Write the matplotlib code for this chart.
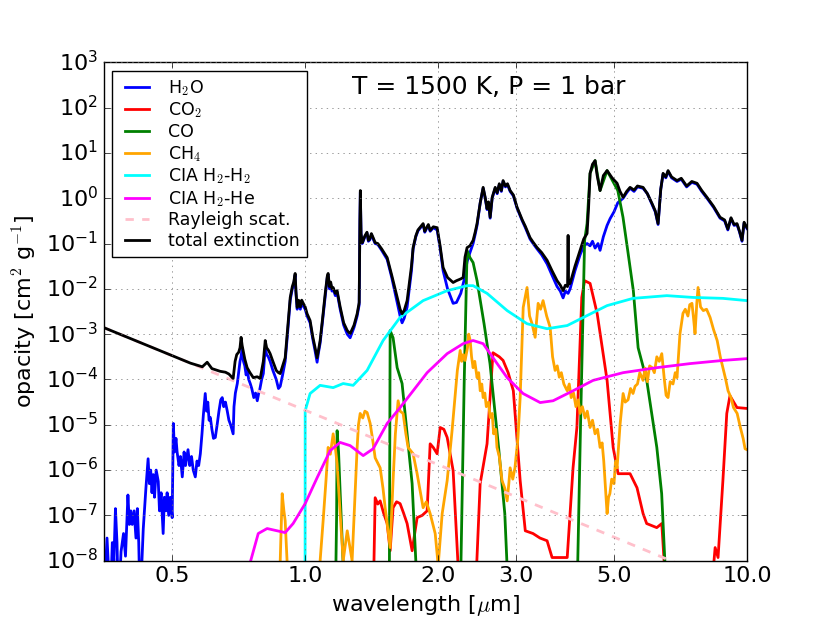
import numpy as np
import matplotlib
matplotlib.use('Agg')
import matplotlib.pyplot as plt
from matplotlib.ticker import FixedLocator, FixedFormatter, NullLocator

plt.style.use('classic')

# wavelength [um] and log10 opacity [cm^2/g]
h2o_wl = [0.349, 0.352, 0.356, 0.359, 0.362, 0.366, 0.369, 0.372, 0.375, 0.378,
          0.383, 0.388, 0.392, 0.397, 0.400, 0.403, 0.406, 0.410, 0.414, 0.417,
          0.420, 0.423, 0.430, 0.436, 0.441, 0.444, 0.447, 0.450, 0.453, 0.456,
          0.460, 0.465, 0.468, 0.472, 0.477, 0.480, 0.484, 0.487, 0.491, 0.495,
          0.500, 0.503, 0.506, 0.510, 0.513, 0.518, 0.522, 0.527, 0.532, 0.536,
          0.543, 0.548, 0.553, 0.558, 0.564, 0.569, 0.574, 0.579, 0.584, 0.588,
          0.594, 0.598, 0.602, 0.606, 0.610, 0.615, 0.620, 0.626, 0.632, 0.638,
          0.644, 0.649, 0.654, 0.660, 0.666, 0.672, 0.678, 0.687, 0.690, 0.695,
          0.702, 0.707, 0.712, 0.716, 0.720, 0.725, 0.730, 0.735, 0.740, 0.745,
          0.751, 0.757, 0.765, 0.772, 0.779, 0.785, 0.790, 0.797, 0.804, 0.812,
          0.818, 0.825, 0.833, 0.845, 0.860, 0.870, 0.878, 0.889, 0.901, 0.912,
          0.925, 0.935, 0.942, 0.949, 0.953, 0.959, 0.966, 0.975, 0.982, 0.990,
          1.000, 1.010, 1.026, 1.040, 1.052, 1.064, 1.072, 1.081, 1.095, 1.110,
          1.118, 1.122, 1.127, 1.135, 1.142, 1.150, 1.157, 1.170, 1.181, 1.200,
          1.222, 1.245, 1.264, 1.290, 1.311, 1.325, 1.330, 1.333, 1.338, 1.346,
          1.353, 1.365, 1.380, 1.390, 1.400, 1.412, 1.425, 1.440, 1.460, 1.490,
          1.533, 1.570, 1.615, 1.640, 1.657, 1.675, 1.701, 1.725, 1.740, 1.755,
          1.780, 1.800, 1.825, 1.849, 1.865, 1.880, 1.900, 1.918, 1.950, 1.989,
          2.020, 2.052, 2.100, 2.162, 2.200, 2.250, 2.290, 2.325, 2.360, 2.399,
          2.425, 2.449, 2.490, 2.528, 2.555, 2.580, 2.600, 2.622, 2.650, 2.692,
          2.720, 2.750, 2.780, 2.805, 2.840, 2.870, 2.910, 2.960, 3.017, 3.100,
          3.150, 3.228, 3.280, 3.349, 3.430, 3.528, 3.620, 3.717, 3.780, 3.835,
          3.880, 3.936, 3.978, 4.080, 4.190, 4.270, 4.345, 4.414, 4.470, 4.531,
          4.600, 4.650, 4.730, 4.823, 4.900, 5.000, 5.100, 5.243, 5.340, 5.437,
          5.550, 5.650, 5.818, 5.950, 6.098, 6.200, 6.291, 6.380, 6.457, 6.550,
          6.627, 6.750, 6.944, 7.100, 7.300, 7.500, 7.706, 7.900, 8.118, 8.400,
          8.690, 8.900, 9.050, 9.200, 9.350, 9.493, 9.620, 9.743, 9.850, 10.0]
h2o_log = [-7.80, -8.50, -7.50, -8.20, -9.00, -7.60, -8.00, -6.85, -7.60, -9.00,
           -7.80, -7.40, -7.90, -6.55, -7.20, -6.90, -7.20, -6.90, -7.50, -6.85,
           -7.60, -9.00, -7.30, -6.40, -5.75, -6.30, -6.00, -6.50, -6.10, -6.60,
           -6.00, -6.25, -6.90, -6.50, -7.40, -6.60, -6.90, -6.50, -7.00, -6.60,
           -7.05, -4.97, -5.60, -5.30, -5.60, -5.90, -5.70, -6.15, -5.60, -5.90,
           -5.55, -5.90, -5.70, -6.00, -6.15, -5.80, -5.90, -5.64, -5.20, -4.80,
           -4.31, -4.70, -4.50, -4.90, -4.84, -5.10, -5.30, -5.28, -5.00, -4.70,
           -4.45, -4.40, -4.60, -4.50, -4.69, -4.90, -5.00, -5.20, -4.60, -4.30,
           -4.09, -3.85, -3.60, -3.50, -3.30, -3.60, -3.70, -3.90, -3.80, -4.00,
           -4.09, -4.20, -4.40, -4.30, -4.47, -4.30, -4.20, -4.00, -3.87, -3.30,
           -3.45, -3.50, -3.60, -3.80, -4.00, -4.20, -4.15, -3.90, -3.60, -3.00,
           -2.25, -2.00, -1.90, -1.70, -2.10, -2.45, -2.30, -2.45, -2.30, -2.38,
           -2.45, -2.60, -2.75, -3.10, -3.35, -3.62, -3.40, -3.20, -2.70, -2.15,
           -1.90, -1.75, -1.70, -2.00, -1.90, -2.05, -2.00, -2.15, -2.08, -2.45,
           -2.80, -3.00, -3.08, -2.85, -2.60, -2.35, -0.50, 0.13, -0.80, -1.00,
           -0.95, -0.85, -0.77, -0.95, -0.92, -0.80, -0.90, -1.00, -1.02, -1.15,
           -1.35, -1.75, -2.30, -2.60, -2.75, -2.65, -2.40, -1.90, -1.60, -1.12,
           -0.85, -0.72, -0.65, -0.58, -0.75, -0.68, -0.60, -0.73, -0.65, -0.70,
           -1.10, -1.60, -2.00, -2.32, -2.30, -2.10, -1.80, -1.40, -1.20, -1.00,
           -0.80, -0.60, -0.10, 0.22, 0.00, -0.25, -0.10, -0.44, 0.00, 0.22,
           0.10, 0.30, 0.15, 0.37, 0.25, 0.30, 0.15, 0.05, -0.22, -0.50,
           -0.65, -0.90, -1.00, -1.12, -1.25, -1.45, -1.70, -1.95, -2.05, -2.20,
           -2.05, -2.10, -2.00, -1.60, -1.25, -1.05, -1.00, -1.05, -0.95, -1.10,
           -1.00, -1.15, -0.85, -0.60, -0.45, -0.30, -0.10, 0.00, 0.12, 0.22,
           0.15, 0.25, 0.22, 0.10, -0.14, -0.30, -0.58, 0.20, 0.53, 0.45,
           0.59, 0.45, 0.37, 0.42, 0.25, 0.35, 0.31, 0.15, 0.00, -0.20,
           -0.44, -0.50, -0.70, -0.45, -0.60, -0.58, -0.75, -0.95, -0.55, -0.67]

co2_wl = [1.400, 1.425, 1.440, 1.460, 1.478, 1.505, 1.533, 1.557, 1.581, 1.610,
          1.640, 1.670, 1.701, 1.746, 1.792, 1.840, 1.888, 1.918, 1.949, 1.989,
          2.021, 2.060, 2.096, 2.162, 2.243, 2.422, 2.489, 2.580, 2.661, 2.700,
          2.750, 2.805, 2.880, 2.959, 3.066, 3.149, 3.278, 3.400, 3.528, 3.621,
          3.918, 4.039, 4.121, 4.227, 4.290, 4.414, 4.581, 4.823, 4.978, 5.108,
          5.437, 5.637, 5.818, 5.928, 6.248, 6.414, 6.586, 8.250, 8.470, 8.600,
          8.820, 9.000, 9.150, 9.490, 10.0]
co2_log = [-9.00, -9.00, -6.61, -6.75, -6.68, -6.95, -7.18, -7.78, -6.83, -6.70,
           -6.74, -6.95, -7.18, -7.78, -7.05, -7.00, -6.90, -5.42, -5.50, -5.64,
           -5.06, -5.10, -5.28, -6.01, -9.00, -9.00, -6.30, -5.42, -3.41, -3.45,
           -3.50, -3.58, -3.85, -4.25, -6.23, -7.34, -7.40, -7.50, -7.56, -7.93,
           -7.93, -5.95, -5.06, -2.19, -1.82, -1.88, -2.55, -4.02, -5.50, -6.08,
           -6.08, -6.39, -6.96, -7.18, -7.27, -7.18, -9.00, -9.00, -7.71, -7.93,
           -6.23, -4.75, -4.36, -4.62, -4.64]

co_wl = [1.170, 1.178, 1.181, 1.190, 1.200, 1.230,
         1.550, 1.557, 1.581, 1.615, 1.657, 1.701, 1.746, 1.800,
         2.243, 2.290, 2.325, 2.360, 2.399, 2.449, 2.540, 2.620, 2.740, 2.830, 2.890,
         4.120, 4.200, 4.290, 4.345, 4.414, 4.531, 4.650, 4.823, 5.100, 5.240,
         5.370, 5.530, 5.670, 5.930, 6.250, 6.410, 6.590]
co_log = [-9.00, -7.00, -5.13, -5.60, -6.50, -9.00,
          -9.00, -2.92, -3.08, -3.74, -4.09, -5.20, -6.30, -9.00,
          -9.00, -4.09, -1.15, -1.31, -1.42, -1.82, -2.77, -3.65, -5.50, -6.96, -9.00,
          -9.00, -5.00, -0.93, -0.56, 0.55, 0.83, 0.17, 0.61, 0.17, -0.42,
          -1.15, -2.04, -3.30, -4.02, -5.50, -6.52, -9.00]

ch4_wl = [0.870, 0.878, 0.887, 0.895, 0.901, 0.910, 0.920,
          1.075, 1.081, 1.098, 1.115, 1.127, 1.140, 1.151, 1.157, 1.170, 1.181,
          1.200, 1.219, 1.245, 1.277, 1.311, 1.320, 1.332, 1.350, 1.365, 1.381,
          1.403, 1.420, 1.440, 1.478, 1.500, 1.517, 1.557, 1.581, 1.600, 1.623,
          1.640, 1.666, 1.690, 1.710, 1.755, 1.792, 1.849, 1.880, 1.918, 1.969,
          2.000, 2.042, 2.096, 2.150, 2.183, 2.210, 2.243, 2.260, 2.280, 2.301,
          2.330, 2.345, 2.363, 2.380, 2.399, 2.420, 2.449, 2.470, 2.490, 2.510,
          2.528, 2.550, 2.570, 2.600, 2.622, 2.650, 2.670, 2.700, 2.717, 2.750,
          2.789, 2.830, 2.865, 2.890, 2.910, 2.950, 2.984, 3.030, 3.066, 3.115,
          3.178, 3.220, 3.262, 3.315, 3.367, 3.410, 3.455, 3.520, 3.585, 3.630,
          3.678, 3.720, 3.760, 3.800, 3.850, 3.918, 3.960, 4.000, 4.050, 4.100,
          4.150, 4.190, 4.240, 4.300, 4.350, 4.414, 4.470, 4.530, 4.590, 4.650,
          4.700, 4.740, 4.790, 4.823, 4.860, 4.894, 4.940, 5.000, 5.040, 5.081,
          5.160, 5.243, 5.300, 5.380, 5.450, 5.521, 5.580, 5.650, 5.720, 5.818,
          5.880, 5.950, 6.020, 6.098, 6.170, 6.250, 6.330, 6.414, 6.500, 6.560,
          6.627, 6.700, 6.800, 6.880, 6.944, 7.050, 7.163, 7.250, 7.350, 7.420,
          7.506, 7.560, 7.627, 7.700, 7.749, 7.850, 7.963, 8.100, 8.250, 8.400,
          8.560, 8.700, 8.820, 8.950, 9.060, 9.200, 9.320, 9.500, 9.660, 9.800,
          9.900, 10.0]
ch4_log = [-9.00, -8.00, -6.52, -6.90, -7.12, -8.00, -9.00,
           -9.00, -8.00, -7.12, -6.20, -5.50, -5.65, -5.35, -5.20, -5.50, -5.86,
           -6.96, -8.00, -7.34, -8.00, -5.50, -5.00, -4.75, -4.85, -4.70, -4.73,
           -4.97, -5.30, -5.73, -5.95, -6.40, -6.83, -7.71, -6.23, -5.20, -4.47,
           -4.70, -4.75, -5.20, -5.50, -5.64, -6.08, -6.83, -6.70, -6.96, -7.40,
           -8.10, -6.96, -6.23, -5.13, -4.40, -3.80, -3.36, -3.60, -3.45, -3.58,
           -3.30, -3.00, -3.14, -3.50, -3.74, -3.60, -3.96, -3.85, -4.25, -4.10,
           -4.40, -4.30, -4.60, -4.50, -4.84, -4.75, -5.20, -5.10, -5.50, -5.70,
           -6.23, -6.40, -6.68, -6.30, -5.95, -6.20, -5.95, -5.30, -4.40, -2.41,
           -1.97, -2.60, -2.77, -3.07, -2.32, -2.45, -2.26, -2.60, -2.85, -3.50,
           -3.80, -3.70, -3.95, -3.85, -4.10, -4.25, -4.10, -4.40, -4.30, -4.60,
           -4.45, -4.75, -4.60, -4.85, -4.70, -5.06, -4.90, -5.20, -5.10, -5.50,
           -5.40, -5.80, -6.50, -6.96, -6.60, -6.52, -6.20, -6.30, -5.80, -5.95,
           -5.00, -4.31, -4.50, -4.45, -4.20, -4.31, -4.15, -4.10, -3.85, -4.02,
           -3.75, -4.05, -3.70, -3.74, -3.85, -3.50, -3.60, -3.43, -4.00, -4.35,
           -4.40, -4.05, -4.10, -3.85, -3.96, -3.00, -2.54, -2.45, -2.60, -2.35,
           -2.32, -2.60, -2.99, -2.30, -1.97, -2.40, -2.48, -2.45, -2.63, -2.90,
           -3.14, -3.50, -3.74, -4.00, -4.25, -4.40, -4.62, -4.75, -5.06, -5.30,
           -5.53, -5.55]

h2h2_wl = [0.9995, 1.000, 1.026, 1.081, 1.157, 1.219, 1.284, 1.381, 1.501, 1.640,
           1.849, 2.096, 2.325, 2.399, 2.580, 2.865, 3.178, 3.528, 3.918, 4.345,
           4.823, 5.521, 6.586, 7.560, 8.820, 10.0]
h2h2_log = [-9.00, -4.69, -4.31, -4.13, -4.18, -4.09, -4.13, -3.80, -3.14, -2.63,
            -2.26, -2.04, -1.93, -1.93, -2.10, -2.48, -2.77, -2.88, -2.81, -2.59,
            -2.37, -2.21, -2.15, -2.19, -2.21, -2.26]

h2he_wl = [0.720, 0.743, 0.783, 0.820, 0.864, 0.901, 0.939, 1.000, 1.064, 1.139,
           1.200, 1.264, 1.353, 1.425, 1.533, 1.640, 1.755, 1.888, 2.096, 2.278,
           2.399, 2.528, 2.661, 2.865, 3.112, 3.403, 3.640, 4.039, 4.484, 5.243,
           6.248, 7.430, 8.820, 10.0]
h2he_log = [-9.00, -8.20, -7.40, -7.29, -7.34, -7.38, -7.18, -6.74, -6.17, -5.57,
            -5.39, -5.46, -5.68, -5.53, -4.97, -4.62, -4.25, -3.85, -3.43, -3.21,
            -3.14, -3.21, -3.52, -3.96, -4.31, -4.51, -4.47, -4.25, -4.02, -3.85,
            -3.74, -3.65, -3.58, -3.54]

ray_wl = [0.349, 1.0, 2.0, 5.0, 10.0]
ray_log = [-2.85, -4.68, -5.88, -7.48, -8.70]

tot_wl = [0.349, 0.450, 0.550, 0.585, 0.600, 0.615, 0.642, 0.660, 0.672, 0.687,
          0.694, 0.700, 0.707, 0.712, 0.716, 0.720, 0.725, 0.730, 0.739, 0.750,
          0.763, 0.779, 0.791, 0.797, 0.804, 0.812, 0.818, 0.825, 0.833, 0.845,
          0.860, 0.870, 0.878, 0.889, 0.901, 0.912, 0.925, 0.935, 0.942, 0.949,
          0.953, 0.959, 0.966, 0.975, 0.982, 0.990, 1.000, 1.010, 1.026, 1.040,
          1.052, 1.064, 1.072, 1.081, 1.095, 1.110, 1.118, 1.122, 1.127, 1.135,
          1.142, 1.150, 1.157, 1.170, 1.181, 1.200, 1.222, 1.245, 1.264, 1.290,
          1.311, 1.325, 1.330, 1.333, 1.338, 1.346, 1.353, 1.365, 1.380, 1.390,
          1.400, 1.412, 1.425, 1.440, 1.460, 1.490, 1.533, 1.570, 1.615, 1.640,
          1.657, 1.675, 1.701, 1.725, 1.740, 1.755, 1.780, 1.800, 1.825, 1.849,
          1.865, 1.880, 1.900, 1.918, 1.950, 1.989, 2.020, 2.052, 2.100, 2.162,
          2.200, 2.250, 2.278, 2.300, 2.325, 2.360, 2.399, 2.425, 2.449, 2.490,
          2.528, 2.555, 2.580, 2.600, 2.622, 2.650, 2.692, 2.720, 2.750, 2.780,
          2.805, 2.840, 2.870, 2.910, 2.960, 3.017, 3.100, 3.150, 3.228, 3.280,
          3.349, 3.430, 3.528, 3.620, 3.717, 3.780, 3.835, 3.880, 3.925, 3.936,
          3.945, 3.978, 4.080, 4.190, 4.270, 4.345, 4.380, 4.414, 4.470, 4.531,
          4.580, 4.650, 4.730, 4.823, 4.950, 5.081, 5.160, 5.243, 5.340, 5.437,
          5.550, 5.650, 5.818, 5.950, 6.098, 6.200, 6.291, 6.380, 6.457, 6.550,
          6.627, 6.750, 6.944, 7.100, 7.300, 7.500, 7.706, 7.900, 8.118, 8.400,
          8.690, 8.900, 9.050, 9.200, 9.350, 9.493, 9.620, 9.743, 9.850, 10.0]
tot_log = [-2.85, -3.29, -3.64, -3.72, -3.62, -3.76, -3.82, -3.84, -3.88, -3.98,
           -3.60, -3.45, -3.40, -3.30, -3.07, -3.25, -3.40, -3.55, -3.74, -3.85,
           -3.96, -3.94, -3.98, -3.80, -3.60, -3.14, -3.30, -3.35, -3.43, -3.60,
           -3.80, -3.85, -3.87, -3.70, -3.52, -2.90, -2.19, -1.95, -1.85, -1.66,
           -2.05, -2.41, -2.25, -2.40, -2.25, -2.32, -2.40, -2.55, -2.70, -3.05,
           -3.28, -3.52, -3.35, -3.14, -2.65, -2.10, -1.85, -1.72, -1.66, -1.95,
           -1.85, -2.00, -1.97, -2.10, -2.04, -2.40, -2.75, -2.92, -2.99, -2.80,
           -2.55, -2.30, -0.50, 0.17, -0.78, -0.98, -0.93, -0.83, -0.75, -0.93,
           -0.90, -0.78, -0.87, -0.98, -1.00, -1.12, -1.31, -1.70, -2.19, -2.45,
           -2.55, -2.48, -2.26, -1.80, -1.50, -1.09, -0.83, -0.70, -0.63, -0.56,
           -0.73, -0.66, -0.58, -0.71, -0.63, -0.65, -1.05, -1.53, -1.75, -1.86,
           -1.82, -1.78, -1.75, -1.30, -1.09, -1.05, -0.93, -0.75, -0.56, -0.10,
           0.24, 0.02, -0.23, -0.08, -0.42, 0.02, 0.24, 0.12, 0.32, 0.17,
           0.39, 0.27, 0.32, 0.17, 0.07, -0.20, -0.48, -0.62, -0.87, -0.97,
           -1.09, -1.20, -1.37, -1.60, -1.82, -1.92, -2.04, -1.92, -1.95, -0.82,
           -1.90, -1.88, -1.50, -1.15, -0.90, -0.78, -0.20, 0.55, 0.75, 0.83,
           0.50, 0.17, 0.50, 0.61, 0.45, 0.33, 0.15, 0.02, 0.15, 0.24,
           0.18, 0.27, 0.24, 0.10, -0.12, -0.28, -0.56, 0.20, 0.55, 0.47,
           0.61, 0.47, 0.39, 0.44, 0.27, 0.37, 0.33, 0.17, 0.02, -0.18,
           -0.42, -0.48, -0.68, -0.43, -0.58, -0.56, -0.73, -0.93, -0.53, -0.65]

xticks = [0.5, 1.0, 2.0, 3.0, 5.0, 10.0]
xtick_labels = ['0.5', '1.0', '2.0', '3.0', '5.0', '10.0']

series = [
    (h2o_wl, h2o_log, 'b', '-', 'H$_2$O'),
    (co2_wl, co2_log, 'r', '-', 'CO$_2$'),
    (co_wl, co_log, 'g', '-', 'CO'),
    (ch4_wl, ch4_log, 'orange', '-', 'CH$_4$'),
    (h2h2_wl, h2h2_log, 'cyan', '-', 'CIA H$_2$-H$_2$'),
    (h2he_wl, h2he_log, 'magenta', '-', 'CIA H$_2$-He'),
    (ray_wl, ray_log, 'pink', '--', 'Rayleigh scat.'),
    (tot_wl, tot_log, 'k', '-', 'total extinction'),
]

fig = plt.figure(figsize=(8.3, 6.23), dpi=100, facecolor='white')
ax = fig.add_subplot(111)

for wl, lg, col, ls, lab in series:
    ax.plot(wl, 10.0 ** np.array(lg), color=col, ls=ls, lw=2, label=lab)

ax.set_xscale('log')
ax.set_yscale('log')
ax.set_xlim(0.35, 10)
ax.set_ylim(1e-8, 1e3)
ax.xaxis.set_major_locator(FixedLocator(xticks))
ax.xaxis.set_major_formatter(FixedFormatter(xtick_labels))
ax.xaxis.set_minor_locator(NullLocator())
ax.yaxis.set_minor_locator(NullLocator())
ax.tick_params(labelsize=16)
ax.grid(True, color='0.45')

ax.set_xlabel(r'wavelength [$\mu$m]', fontsize=16)
ax.set_ylabel(r'opacity [cm$^2$ g$^{-1}$]', fontsize=16)
ax.text(0.598, 0.95, 'T = 1500 K, P = 1 bar', transform=ax.transAxes,
        ha='center', va='center', fontsize=18)

ax.legend(loc='upper left', fontsize=12.5, labelspacing=0.15)

fig.savefig('out.png', dpi=100, facecolor='white')
